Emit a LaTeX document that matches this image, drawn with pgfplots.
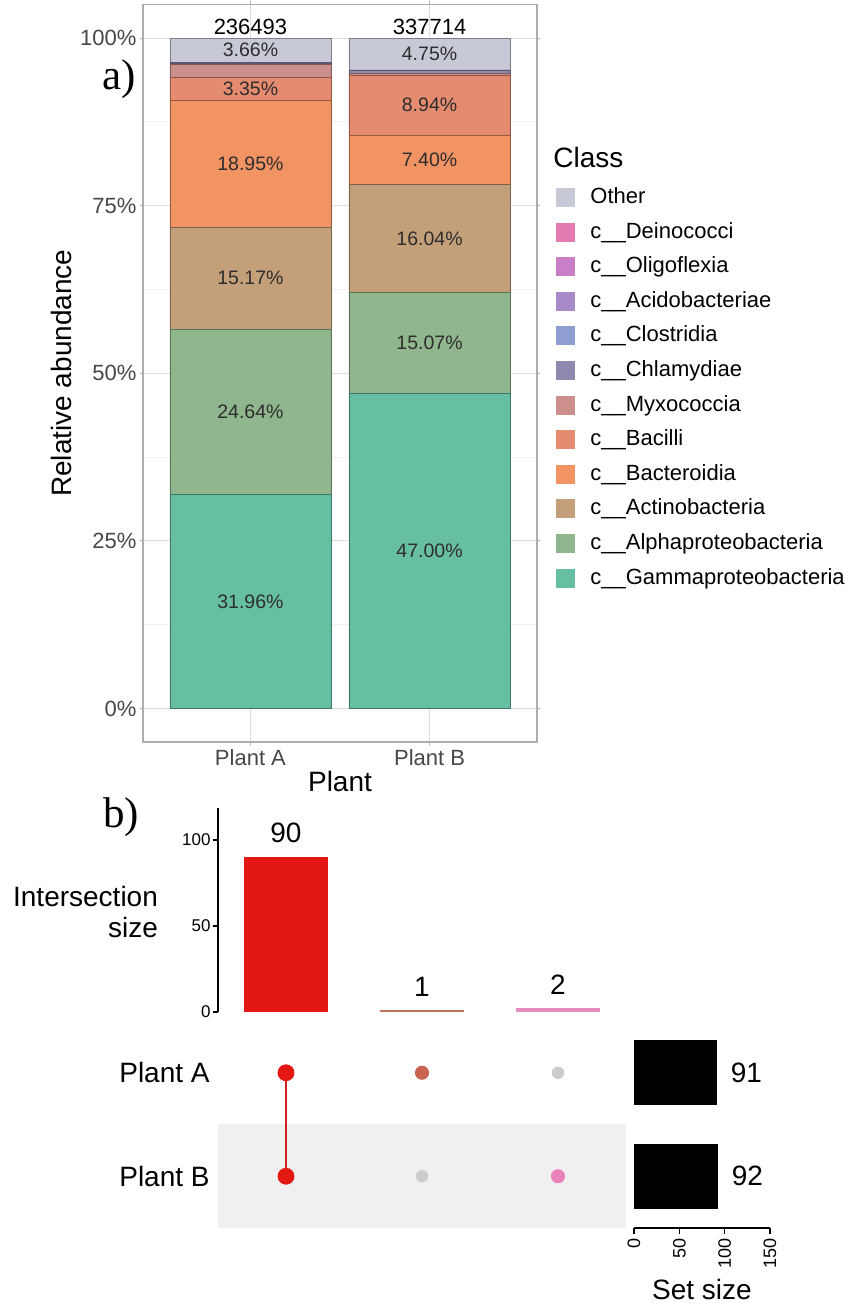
\documentclass[border=0pt]{standalone}
\usepackage{fontspec}
\setmainfont{Liberation Sans}
\newfontfamily\seriffont{Liberation Serif}
\usepackage{pgfplots}
\pgfplotsset{compat=1.18}
\pgfplotsset{/pgf/number format/assume math mode=true}

% class colours (panel a)
\definecolor{cOther}{RGB}{200,201,214}
\definecolor{cDeino}{RGB}{228,123,176}
\definecolor{cOligo}{RGB}{200,127,200}
\definecolor{cAcido}{RGB}{166,139,200}
\definecolor{cClost}{RGB}{142,158,210}
\definecolor{cChlam}{RGB}{142,138,175}
\definecolor{cMyxo}{RGB}{205,143,140}
\definecolor{cBacil}{RGB}{229,140,112}
\definecolor{cBacte}{RGB}{241,147,99}
\definecolor{cActino}{RGB}{196,160,122}
\definecolor{cAlpha}{RGB}{143,182,140}
\definecolor{cGamma}{RGB}{102,191,163}
% upset colours (panel b)
\definecolor{upred}{RGB}{227,24,18}
\definecolor{upline}{RGB}{205,35,30}
\definecolor{upbrown}{RGB}{196,115,96}
\definecolor{upbrowndot}{RGB}{200,100,80}
\definecolor{uppink}{RGB}{232,140,192}
\definecolor{uppinkdot}{RGB}{232,130,186}

\tikzset{
  seg/.style={fill=#1, draw=#1!62!black, line width=0.3pt},
  pl/.style={font=\fontsize{9.75}{11}\selectfont, text=black!82},
}

\begin{document}
\begin{tikzpicture}
\path[use as bounding box] (0,0) rectangle (427pt,652pt);

% ---------- a) relative abundance ----------
\begin{axis}[
  at={(71.5pt,281pt)}, anchor=south west, scale only axis,
  width=197pt, height=368.75pt,
  ybar stacked, bar width=0.9,
  xmin=0.4, xmax=2.6, ymin=-5, ymax=105,
  xtick={1,2}, xticklabels={Plant A,Plant B},
  ytick={0,25,50,75,100}, yticklabels={0\%,25\%,50\%,75\%,100\%},
  minor ytick={12.5,37.5,62.5,87.5},
  xmajorgrids, ymajorgrids, yminorgrids,
  major grid style={draw=black!13, line width=0.5pt},
  minor grid style={draw=black!6, line width=0.4pt},
  axis line style={draw=black!32, line width=0.6pt},
  major tick style={draw=black!32, line width=0.5pt},
  minor tick length=0pt,
  tick align=outside, major tick length=1.6pt,
  tick label style={font=\fontsize{11}{13}\selectfont, text=black!72},
  yticklabel style={inner xsep=1.5pt},
  xticklabel style={inner ysep=2pt},
  every axis x label/.style={at={(axis description cs:0.5,-0.0542)}, anchor=center, font=\fontsize{14}{16}\selectfont},
  every axis y label/.style={at={(axis description cs:-0.2081,0.5)}, anchor=center, rotate=90, font=\fontsize{14}{16}\selectfont},
  xlabel={Plant}, ylabel={Relative abundance},
  legend cell align=left, reverse legend,
  legend image code/.code={\fill[#1,draw=none] (0pt,-4.75pt) rectangle (9.5pt,4.75pt);},
  legend style={at={(1.0482,0.7525)}, anchor=north west, draw=none, fill=none,
    inner sep=0pt, column sep=7.5pt, row sep=7.3pt,
    font=\fontsize{11}{13}\selectfont,
    nodes={inner sep=0pt, text height=8pt, text depth=2pt}},
  clip=false,
]
\addplot[seg=cGamma]  coordinates {(1,31.96) (2,47.00)};
\addplot[seg=cAlpha]  coordinates {(1,24.64) (2,15.07)};
\addplot[seg=cActino] coordinates {(1,15.17) (2,16.04)};
\addplot[seg=cBacte]  coordinates {(1,18.95) (2,7.40)};
\addplot[seg=cBacil]  coordinates {(1,3.35) (2,8.94)};
\addplot[seg=cMyxo]   coordinates {(1,1.95) (2,0.30)};
\addplot[seg=cChlam]  coordinates {(1,0.20) (2,0.40)};
\addplot[seg=cClost]  coordinates {(1,0.05) (2,0.05)};
\addplot[seg=cAcido]  coordinates {(1,0.05) (2,0.03)};
\addplot[seg=cOligo]  coordinates {(1,0.01) (2,0.01)};
\addplot[seg=cDeino]  coordinates {(1,0.01) (2,0.01)};
\addplot[seg=cOther]  coordinates {(1,3.66) (2,4.75)};
\legend{c\_\_Gammaproteobacteria,c\_\_Alphaproteobacteria,c\_\_Actinobacteria,
  c\_\_Bacteroidia,c\_\_Bacilli,c\_\_Myxococcia,c\_\_Chlamydiae,c\_\_Clostridia,
  c\_\_Acidobacteriae,c\_\_Oligoflexia,c\_\_Deinococci,Other}

% anchor points for the segment labels (drawn after the axis, above the bars)
\coordinate (a1) at (axis cs:1,15.98);
\coordinate (a2) at (axis cs:1,44.28);
\coordinate (a3) at (axis cs:1,64.185);
\coordinate (a4) at (axis cs:1,81.245);
\coordinate (a5) at (axis cs:1,92.395);
\coordinate (a6) at (axis cs:1,98.17);
\coordinate (b1) at (axis cs:2,23.5);
\coordinate (b2) at (axis cs:2,54.535);
\coordinate (b3) at (axis cs:2,70.09);
\coordinate (b4) at (axis cs:2,81.81);
\coordinate (b5) at (axis cs:2,89.98);
\coordinate (b6) at (axis cs:2,97.625);
\coordinate (na) at (axis cs:1,101.7);
\coordinate (nb) at (axis cs:2,101.7);
\end{axis}

\node[pl] at (a1) {31.96\%};
\node[pl] at (a2) {24.64\%};
\node[pl] at (a3) {15.17\%};
\node[pl] at (a4) {18.95\%};
\node[pl] at (a5) {3.35\%};
\node[pl] at (a6) {3.66\%};
\node[pl] at (b1) {47.00\%};
\node[pl] at (b2) {15.07\%};
\node[pl] at (b3) {16.04\%};
\node[pl] at (b4) {7.40\%};
\node[pl] at (b5) {8.94\%};
\node[pl] at (b6) {4.75\%};
\node[font=\fontsize{11}{13}\selectfont] at (na) {236493};
\node[font=\fontsize{11}{13}\selectfont] at (nb) {337714};

\node[anchor=west, inner sep=0pt, font=\fontsize{14}{16}\selectfont] at (276.5pt,573pt) {Class};
\node[anchor=base west, inner sep=0pt, font=\seriffont\fontsize{21.5}{24}\selectfont] at (51pt,607pt) {a)};
\node[anchor=base west, inner sep=0pt, font=\seriffont\fontsize{21.5}{24}\selectfont] at (51.5pt,238pt) {b)};

% ---------- b) intersection sizes ----------
\begin{axis}[
  at={(109pt,146pt)}, anchor=south west, scale only axis,
  width=204pt, height=102pt,
  ybar, bar width=0.61, bar shift=0pt,
  xmin=0.5, xmax=3.5, ymin=0, ymax=118.6,
  axis x line=none, axis y line*=left,
  axis line style={-, black, line width=0.6pt},
  ytick={0,50,100}, tick align=outside, major tick length=2.5pt,
  major tick style={black, line width=0.6pt},
  yticklabel style={font=\fontsize{8.5}{9}\selectfont, inner xsep=1pt},
  every axis y label/.style={at={(axis description cs:-0.13,0.4926)}, anchor=east, align=right, font=\fontsize{14}{15.5}\selectfont},
  ylabel={Intersection\\size},
  nodes near coords,
  nodes near coords style={font=\fontsize{14}{16}\selectfont, anchor=south, inner sep=0pt, yshift=6.75pt, text=black},
  clip=false,
]
\addplot[fill=upred, draw=upred, line width=0.5pt] coordinates {(1,90)};
\addplot[fill=upbrown, draw=upbrown, line width=0.5pt] coordinates {(2,1)};
\addplot[fill=uppink, draw=uppink, line width=0.5pt] coordinates {(3,2)};
\end{axis}

% ---------- b) membership matrix ----------
\begin{axis}[
  at={(109pt,38pt)}, anchor=south west, scale only axis,
  width=204pt, height=103.5pt,
  xmin=0.5, xmax=3.5, ymin=-0.5, ymax=1.5,
  axis line style={draw=none}, xtick=\empty,
  ytick={0,1}, yticklabels={Plant B,Plant A},
  major tick length=0pt,
  yticklabel style={font=\fontsize{14}{16}\selectfont, inner xsep=4pt, text=black},
  clip=false,
]
\fill[black!6] (axis cs:0.5,-0.5) rectangle (axis cs:3.5,0.5);
\addplot[only marks, mark=*, mark size=2.9pt, color=black!20] coordinates {(2,0) (3,1)};
\addplot[only marks, mark=*, mark size=3.3pt, color=upbrowndot] coordinates {(2,1)};
\addplot[only marks, mark=*, mark size=3.3pt, color=uppinkdot] coordinates {(3,0)};
\addplot[color=upline, line width=1pt, mark=*, mark size=3.7pt, mark options={fill=upred, draw=upred}] coordinates {(1,1) (1,0)};
\end{axis}

% ---------- b) set sizes ----------
\begin{axis}[
  at={(317pt,38pt)}, anchor=south west, scale only axis,
  width=68pt, height=103.5pt,
  xbar, bar width=0.62, bar shift=0pt,
  xmin=0, xmax=150, ymin=-0.5, ymax=1.5,
  axis y line=none, axis x line*=bottom,
  axis line style={-, black, line width=0.6pt},
  xtick={0,50,100,150}, tick align=outside, major tick length=3pt,
  major tick style={black, line width=0.6pt},
  xticklabel style={rotate=90, anchor=east, font=\fontsize{9}{10}\selectfont, inner xsep=2pt},
  every axis x label/.style={at={(axis description cs:0.5,-0.298)}, anchor=center, font=\fontsize{14}{16}\selectfont},
  xlabel={Set size},
  nodes near coords,
  nodes near coords style={anchor=west, inner sep=0pt, xshift=7pt, font=\fontsize{14}{16}\selectfont, text=black},
  clip=false,
]
\addplot[fill=black, draw=black, point meta=x] coordinates {(91,1) (92,0)};
\end{axis}
\end{tikzpicture}
\end{document}
